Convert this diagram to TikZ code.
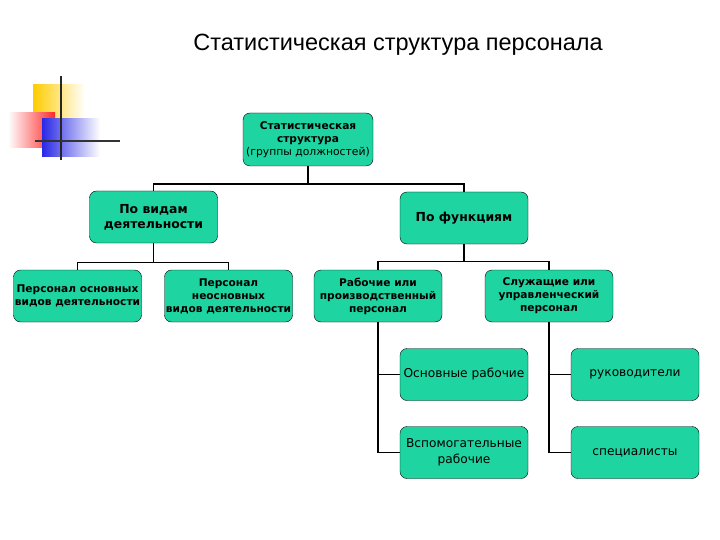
\documentclass[tikz,border=0pt]{standalone}
\usepackage{fontspec}
\setmainfont{Liberation Sans}
\newfontfamily\boxfont{DejaVu Sans}
\usetikzlibrary{positioning}

\definecolor{boxgreen}{RGB}{30,212,160}
\definecolor{decoyellow}{RGB}{255,204,0}
\definecolor{decored}{RGB}{255,40,40}
\definecolor{decoblue}{RGB}{40,40,230}

\begin{document}
\begin{tikzpicture}[
  x=1pt, y=-1pt,
  every node/.style={font=\boxfont},
  orgbox/.style={rectangle, rounded corners=7pt, draw=black, fill=boxgreen,
    align=center, minimum width=128pt, minimum height=52pt, inner sep=0pt,
    font=\boxfont\bfseries\fontsize{10.6}{13}\selectfont},
  topbox/.style={orgbox, font=\boxfont\bfseries\fontsize{12.4}{15}\selectfont},
  leafbox/.style={orgbox, font=\boxfont\fontsize{12.2}{16}\selectfont},
  link/.style={draw=black, line width=1.4pt}
]
\useasboundingbox (0,0) rectangle (720,540);

% Decoration
\shade[left color=decoyellow, right color=white] (33,85) rectangle (85,135);
\shade[left color=white, right color=decored] (8,113) rectangle (55,148);
\shade[left color=decoblue, right color=white] (42,119) rectangle (100,157);
\draw[line width=2pt, black!85] (61,76) -- (61,160);
\draw[line width=2pt, black!80] (35,141) -- (120,141);

% Title
\node[font=\fontsize{23.5}{28}\selectfont] (title) at (398,45) {Статистическая структура персонала};

% Tree
\node[orgbox, minimum width=130pt, minimum height=53pt] (root) at (308,139.5)
  {Статистическая\\структура\\{\mdseries\fontsize{10.8}{13}\selectfont (группы должностей)}};
\node[topbox] (vid) at (153.5,217) {По видам\\деятельности};
\node[topbox] (func) at (464,218) {По функциям};

\node[orgbox] (main) at (77.5,296) {Персонал основных\\видов деятельности};
\node[orgbox] (aux) at (228.5,296) {Персонал\\неосновных\\видов деятельности};
\node[orgbox] (work) at (378,296) {Рабочие или\\производственный\\персонал};
\node[orgbox] (serv) at (549,296) {Служащие или\\управленческий\\персонал};

\node[leafbox] (basic) at (464,374.5) {Основные рабочие};
\node[leafbox] (help) at (464,452.5) {Вспомогательные\\рабочие};
\node[leafbox] (head) at (635,374.5) {руководители};
\node[leafbox] (spec) at (635,452.5) {специалисты};

% Connectors
\draw[link] (root.south) -- ++(0,18) -| (vid.north);
\draw[link] (root.south) -- ++(0,18) -| (func.north);
\draw[link] (vid.south) -- ++(0,19) -| (main.north);
\draw[link] (vid.south) -- ++(0,19) -| (aux.north);
\draw[link] (func.south) -- ++(0,17) -| (work.north);
\draw[link] (func.south) -- ++(0,17) -| (serv.north);
\draw[link] (work.south) |- (basic.west);
\draw[link] (work.south) |- (help.west);
\draw[link] (serv.south) |- (head.west);
\draw[link] (serv.south) |- (spec.west);

\end{tikzpicture}
\end{document}
